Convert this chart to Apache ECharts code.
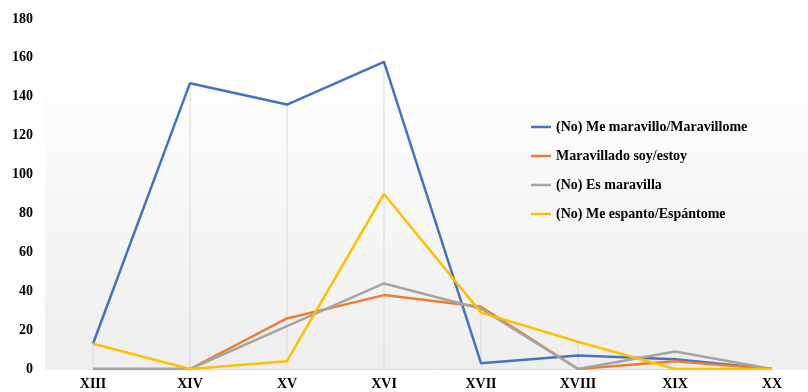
<!DOCTYPE html>
<html>
<head>
<meta charset="utf-8">
<script src="https://cdn.jsdelivr.net/npm/echarts@6/dist/echarts.min.js"></script>
<style>
  html, body { margin: 0; padding: 0; background: #ffffff; }
  #chart { width: 808px; height: 392px; }
</style>
</head>
<body>
<div id="chart"></div>
<script>
// Centuries on the horizontal axis
const centuries = ['XIII', 'XIV', 'XV', 'XVI', 'XVII', 'XVIII', 'XIX', 'XX'];

// Occurrences per century for each expression
const meMaravillo = [13, 147, 136, 158, 3, 7, 5, 0];
const maravilladoSoy = [0, 0, 26, 38, 32, 0, 4, 0];
const esMaravilla = [0, 0, 22, 44, 31, 0, 9, 0];
const meEspanto = [13, 0, 4, 90, 29, 14, 0, 0];

const seriesNames = [
  '(No) Me maravillo/Maravillome',
  'Maravillado soy/estoy',
  '(No) Es maravilla',
  '(No) Me espanto/Espántome'
];
const seriesColors = ['#4472C4', '#ED7D31', '#A5A5A5', '#FFC000'];
const seriesValues = [meMaravillo, maravilladoSoy, esMaravilla, meEspanto];

// Drop lines reach from the axis up to the highest value in each century
const dropHeights = centuries.map((_, i) => Math.max(...seriesValues.map(s => s[i])));

const serifBold = {
  fontFamily: '"Liberation Serif", "Times New Roman", serif',
  fontWeight: 'bold',
  color: '#000000'
};

const chart = echarts.init(document.getElementById('chart'));

chart.setOption({
  animation: false,
  backgroundColor: '#ffffff',
  graphic: [{
    type: 'rect',
    z: -10,
    silent: true,
    shape: { x: 45, y: 57, width: 763, height: 313 },
    style: {
      fill: new echarts.graphic.LinearGradient(0, 0, 0, 1, [
        { offset: 0, color: '#ffffff' },
        { offset: 1, color: '#eeeeee' }
      ])
    }
  }],
  grid: { left: 93, right: 36, top: 19, bottom: 23 },
  legend: {
    orient: 'vertical',
    left: 531,
    top: 119,
    padding: 0,
    icon: 'rect',
    itemWidth: 20,
    itemHeight: 2.5,
    itemGap: 13,
    data: seriesNames,
    textStyle: Object.assign({ fontSize: 14, lineHeight: 16 }, serifBold)
  },
  xAxis: {
    type: 'category',
    data: centuries,
    boundaryGap: false,
    axisLine: { show: true, lineStyle: { color: '#d9d9d9', width: 1 } },
    axisTick: { show: false },
    axisLabel: Object.assign({ fontSize: 14, margin: 8 }, serifBold),
    splitLine: { show: false }
  },
  yAxis: {
    type: 'value',
    min: 0,
    max: 180,
    interval: 20,
    axisLine: { show: false },
    axisTick: { show: false },
    splitLine: { show: false },
    axisLabel: Object.assign({ fontSize: 14, margin: 60 }, serifBold)
  },
  series: [
    {
      name: 'drop',
      type: 'bar',
      data: dropHeights,
      barWidth: 1,
      silent: true,
      z: 1,
      itemStyle: { color: '#d9d9d9' }
    }
  ].concat(seriesValues.map((vals, i) => ({
    name: seriesNames[i],
    type: 'line',
    data: vals,
    symbol: 'none',
    z: 3 + i,
    lineStyle: { color: seriesColors[i], width: 2.5 },
    itemStyle: { color: seriesColors[i] }
  })))
});
</script>
</body>
</html>
